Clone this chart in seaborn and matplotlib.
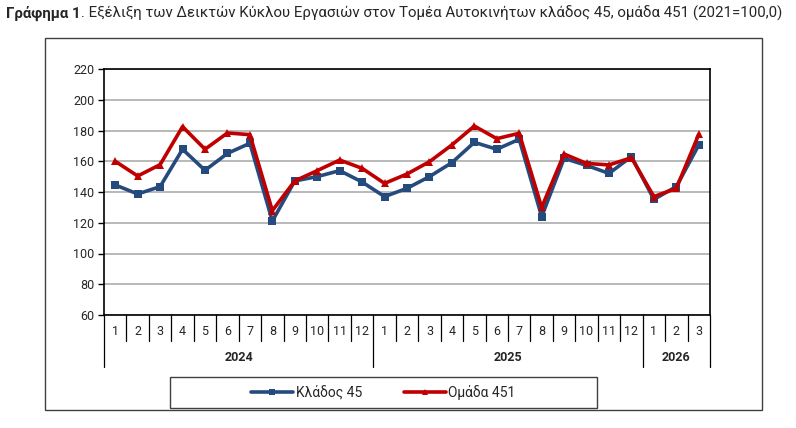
import matplotlib
matplotlib.use("Agg")
import matplotlib.pyplot as plt
import matplotlib.transforms as mtransforms
from matplotlib.patches import Rectangle
import pandas as pd
import seaborn as sns

# data
years = ["2024"] * 12 + ["2025"] * 12 + ["2026"] * 3
months = list(range(1, 13)) * 2 + [1, 2, 3]
klados_45 = [144.6, 138.7, 143.5, 167.8, 154.1, 165.1, 171.7, 121.1, 147.2, 150.0, 153.9, 146.5,
             137.0, 142.4, 150.0, 159.1, 172.3, 167.8, 174.3, 124.0, 161.9, 157.3, 152.1, 163.0,
             135.2, 143.5, 170.6]
omada_451 = [160.0, 150.4, 157.8, 182.5, 167.8, 178.4, 177.3, 127.9, 147.2, 153.9, 160.8, 155.4,
             145.6, 151.7, 159.7, 170.6, 182.9, 174.7, 178.2, 130.0, 164.7, 158.6, 157.6, 162.3,
             137.0, 142.4, 177.5]
series_names = ["Κλάδος 45", "Ομάδα 451"]
colors = {"Κλάδος 45": "#254B7E", "Ομάδα 451": "#C00000"}
markers = {"Κλάδος 45": "s", "Ομάδα 451": "^"}

sns.set_style("white")
plt.rcParams["font.family"] = ["Roboto", "DejaVu Sans"]

df = pd.DataFrame({"x": range(len(months)), series_names[0]: klados_45, series_names[1]: omada_451})
long = df.melt(id_vars="x", var_name="series", value_name="value")

fig = plt.figure(figsize=(7.96, 4.28), dpi=100)
ax = fig.add_axes([104 / 796, 1 - 315 / 428, (710 - 104) / 796, (315 - 69) / 428])

sns.lineplot(data=long, x="x", y="value", hue="series", style="series",
             palette=colors, markers=markers, dashes=False, linewidth=2.6,
             markersize=5.5, markeredgewidth=0, ax=ax, legend=True)

ax.set_xlim(-0.5, len(months) - 0.5)
ax.set_ylim(60, 220)
ax.set_yticks(range(60, 221, 20))
ax.yaxis.grid(True, color="#A6A6A6", linewidth=1.1)
ax.set_axisbelow(True)
ax.set_xticks([])
ax.set_xlabel("")
ax.set_ylabel("")
ax.tick_params(axis="y", labelsize=9, length=4, width=1, color="black", left=True, pad=3)
for s in ax.spines.values():
    s.set_color("black")
    s.set_linewidth(1.2)

# category axis: month boxes and year groups
trans = mtransforms.blended_transform_factory(ax.transData, ax.transAxes)
n = len(months)
for i in range(n + 1):
    long_line = i == 0 or i == n or years[i] != years[i - 1]
    y_end = -0.211 if long_line else -0.106
    ax.plot([i - 0.5, i - 0.5], [0, y_end], transform=trans, color="black",
            linewidth=0.9, clip_on=False)
for i, m in enumerate(months):
    ax.text(i, -0.069, str(m), transform=trans, ha="center", va="center", fontsize=9)
for yr in dict.fromkeys(years):
    idx = [i for i, y in enumerate(years) if y == yr]
    ax.text((idx[0] + idx[-1]) / 2, -0.171, yr, transform=trans, ha="center",
            va="center", fontsize=9, fontweight="bold")

# legend in a plain box
handles, labels = ax.get_legend_handles_labels()
ax.legend_.remove()
fig.legend(handles, labels, loc="center", bbox_to_anchor=(383.5 / 796, 1 - 392.5 / 428),
           ncol=2, frameon=False, fontsize=10, handlelength=3.0, handletextpad=0.2,
           columnspacing=3.0, markerscale=0.7)
fig.add_artist(Rectangle((170 / 796, 1 - 408 / 428), (597 - 170) / 796, 31 / 428,
                         transform=fig.transFigure, fill=False, edgecolor="#404040",
                         linewidth=1.0))

# outer chart frame
fig.add_artist(Rectangle((45 / 796, 1 - 410 / 428), (762 - 45) / 796, (410 - 38) / 428,
                         transform=fig.transFigure, fill=False, edgecolor="#404040",
                         linewidth=1.0))

# title: bold lead + regular rest
t1 = fig.text(6 / 796, 1 - 13 / 428, "Γράφημα 1", fontsize=10.8, fontweight="bold", va="center")
fig.canvas.draw()
bb = t1.get_window_extent()
fig.text(bb.x1 / fig.bbox.width, 1 - 13 / 428,
         ". Εξέλιξη των Δεικτών Κύκλου Εργασιών στον Τομέα Αυτοκινήτων κλάδος 45, ομάδα 451 (2021=100,0)",
         fontsize=10.8, va="center")

fig.savefig("out.png", dpi=100)
